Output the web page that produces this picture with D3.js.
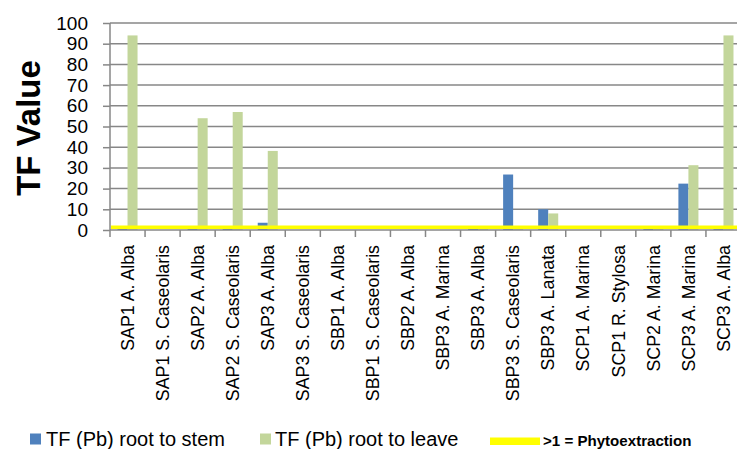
<!DOCTYPE html>
<html>
<head>
<meta charset="utf-8">
<script src="https://cdn.jsdelivr.net/npm/d3@7"></script>
<style>
  html, body { margin: 0; padding: 0; background: #fff; }
  svg { display: block; }
  text { font-family: "Liberation Sans", Arial, sans-serif; fill: #000; }
</style>
</head>
<body>
<svg id="chart" width="737" height="449"></svg>
<script>
const categories = [
  "SAP1 A. Alba", "SAP1 S. Caseolaris", "SAP2 A. Alba", "SAP2 S. Caseolaris",
  "SAP3 A. Alba", "SAP3 S. Caseolaris", "SBP1 A. Alba", "SBP1 S. Caseolaris",
  "SBP2 A. Alba", "SBP3 A. Marina", "SBP3 A. Alba", "SBP3 S. Caseolaris",
  "SBP3 A. Lanata", "SCP1 A. Marina", "SCP1 R. Stylosa", "SCP2 A. Marina",
  "SCP3 A. Marina", "SCP3 A. Alba"
];
const rootToStem  = [1.1, 0, 1.1, 1.1, 3.5, 0, 0, 0, 0, 0, 1.1, 26.8, 10, 0, 0, 1.1, 22.4, 1.1];
const rootToLeave = [94, 0, 54, 57, 38.2, 0, 0, 0, 0, 0, 0.7, 0.7, 8, 0, 0, 0.7, 31.3, 94];
const threshold = 1.3;
const yTicks = [0, 10, 20, 30, 40, 50, 60, 70, 80, 90, 100];
const seriesNames = ["TF (Pb) root to stem", "TF (Pb) root to leave"];
const thresholdName = ">1 = Phytoextraction";
const colors = ["#4F81BD", "#C3D69B"];
const thresholdColor = "#FFFF00";

(function () {
const svg = d3.select("#chart");
const mLeft = 110, mRight = 741, mTop = 23, mBottom = 230;

const x = d3.scaleBand().domain(categories).range([mLeft, mRight]).paddingInner(0).paddingOuter(0);
const bw = x.bandwidth();
const x1 = d3.scaleBand().domain([0, 1]).range([bw * 0.2143, bw * 0.7857]);
const y = d3.scaleLinear().domain([0, 100]).range([mBottom, mTop]);

// gridlines
svg.append("g")
  .selectAll("line")
  .data(yTicks.filter(t => t > 0))
  .join("line")
  .attr("x1", mLeft).attr("x2", 737)
  .attr("y1", d => y(d)).attr("y2", d => y(d))
  .attr("stroke", "#878787").attr("stroke-width", 1.5);

// bars
const series = [rootToStem, rootToLeave];
series.forEach((vals, si) => {
  svg.append("g")
    .selectAll("rect")
    .data(vals.map((v, i) => ({ c: categories[i], v })))
    .join("rect")
    .attr("x", d => x(d.c) + x1(si))
    .attr("width", x1.bandwidth())
    .attr("y", d => y(d.v))
    .attr("height", d => y(0) - y(d.v))
    .attr("fill", colors[si]);
});

// y axis
const yAxis = d3.axisLeft(y).tickValues(yTicks).tickSize(7).tickPadding(15);
const gy = svg.append("g").attr("transform", `translate(${mLeft},0)`).call(yAxis);
gy.select(".domain").remove();
gy.selectAll(".tick line").attr("stroke", "#878787").attr("stroke-width", 1.5);
gy.selectAll(".tick text")
  .attr("font-family", "Liberation Sans, Arial, sans-serif")
  .attr("font-size", 19).attr("fill", "#000");
svg.append("line")
  .attr("x1", mLeft).attr("x2", mLeft)
  .attr("y1", y(100)).attr("y2", mBottom + 7)
  .attr("stroke", "#878787").attr("stroke-width", 1.5);

// x axis
svg.append("line")
  .attr("x1", mLeft).attr("x2", 737)
  .attr("y1", mBottom).attr("y2", mBottom)
  .attr("stroke", "#878787").attr("stroke-width", 1.5);
svg.append("g")
  .selectAll("line")
  .data(categories.slice(1))
  .join("line")
  .attr("x1", d => x(d)).attr("x2", d => x(d))
  .attr("y1", mBottom).attr("y2", mBottom + 7)
  .attr("stroke", "#878787").attr("stroke-width", 1.5);

// threshold line
svg.append("line")
  .attr("x1", mLeft + 1).attr("x2", 737)
  .attr("y1", y(threshold)).attr("y2", y(threshold))
  .attr("stroke", thresholdColor).attr("stroke-width", 3.5);

// category labels
svg.append("g")
  .selectAll("text")
  .data(categories)
  .join("text")
  .attr("transform", d => `translate(${x(d) + bw / 2},245) rotate(-90)`)
  .attr("text-anchor", "end")
  .attr("dy", "0.35em")
  .attr("font-size", 17.8)
  .text(d => d);

// y title
svg.append("text")
  .attr("transform", "translate(40,128) rotate(-90)")
  .attr("text-anchor", "middle")
  .attr("font-size", 33)
  .attr("font-weight", "bold")
  .text("TF Value");

// legend
const lg = svg.append("g");
const legendItems = [
  { sx: 30, tx: 46, name: seriesNames[0], color: colors[0] },
  { sx: 260, tx: 275, name: seriesNames[1], color: colors[1] }
];
legendItems.forEach(it => {
  lg.append("rect").attr("x", it.sx).attr("y", 433.5).attr("width", 11).attr("height", 11).attr("fill", it.color);
  lg.append("text").attr("x", it.tx).attr("y", 446).attr("font-size", 20).text(it.name);
});
lg.append("rect").attr("x", 490).attr("y", 437.5).attr("width", 50).attr("height", 7.5).attr("fill", thresholdColor);
lg.append("text").attr("x", 543).attr("y", 446).attr("font-size", 15.1).attr("font-weight", "bold").text(thresholdName);
})();
</script>
</body>
</html>
